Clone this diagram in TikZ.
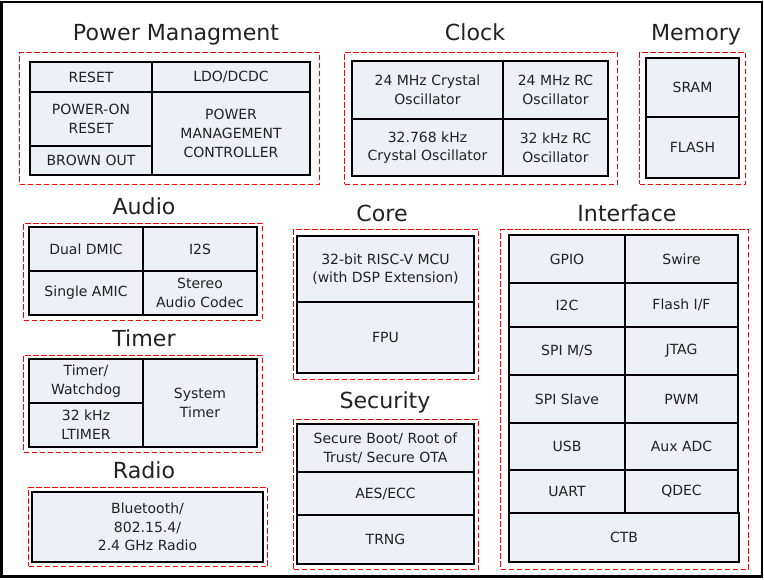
\documentclass[tikz,border=0pt]{standalone}
\usepackage{fontspec}
\setmainfont{DejaVu Sans}
\definecolor{cellfill}{RGB}{237,240,247}
\definecolor{grpred}{RGB}{255,0,0}
\definecolor{txtgray}{RGB}{34,34,34}
\tikzset{
  cellbox/.style={draw=black, line width=0.9pt, fill=cellfill, inner sep=0pt,
    align=center, text=txtgray, font=\fontsize{10.5}{14}\selectfont},
  grpbox/.style={draw=grpred, line width=0.8pt, dash pattern=on 4pt off 2pt, inner sep=0pt},
  grptitle/.style={anchor=base, text=txtgray, font=\fontsize{16.6}{20}\selectfont},
}
% box from pixel corners (x1,y1) to (x2,y2)
\newcommand{\cellnode}[7][cellbox]{%
  \pgfmathsetmacro{\cw}{(#5-#3)*0.75}%
  \pgfmathsetmacro{\ch}{(#6-#4)*0.75}%
  \node[#1, minimum width=\cw pt, minimum height=\ch pt] (#2) at ({(#3+#5)/2},{(#4+#6)/2}) {#7};}

\begin{document}
\begin{tikzpicture}[x=0.75pt,y=-0.75pt]
    \useasboundingbox (0,0) rectangle (764,580);

    % outer frame
    \draw[line width=1.5pt] (1.5,2) rectangle (761.5,576.5);

    % Power management
    \node[grptitle] (t-power) at (176,41) {Power Managment};
    \cellnode[grpbox]{g-power}{19.5}{52.5}{319.5}{184.5}{}
    \cellnode{rst}{30}{62}{152}{92}{RESET}
    \cellnode{por}{30}{92}{152}{146}{POWER-ON\\RESET}
    \cellnode{bo}{30}{146}{152}{175}{BROWN OUT}
    \cellnode{ldo}{152}{62}{310}{92}{LDO/DCDC}
    \cellnode{pmc}{152}{92}{310}{175}{POWER\\MANAGEMENT\\CONTROLLER}

    % Clock
    \node[grptitle] (t-clock) at (475,41) {Clock};
    \cellnode[grpbox]{g-clock}{344.5}{52.5}{617.5}{184.5}{}
    \cellnode{xo24}{352}{61}{503}{119}{24 MHz Crystal\\Oscillator}
    \cellnode{rc24}{503}{61}{608}{119}{24 MHz RC\\Oscillator}
    \cellnode{xo32}{352}{119}{503}{176}{32.768 kHz\\Crystal Oscillator}
    \cellnode{rc32}{503}{119}{608}{176}{32 kHz RC\\Oscillator}

    % Memory
    \node[grptitle] (t-mem) at (696,41) {Memory};
    \cellnode[grpbox]{g-mem}{639.5}{52.5}{745.5}{184.5}{}
    \cellnode{sram}{646}{58}{739}{117}{SRAM}
    \cellnode{flash}{646}{117}{739}{178}{FLASH}

    % Audio
    \node[grptitle] (t-audio) at (144,215) {Audio};
    \cellnode[grpbox]{g-audio}{23.5}{223.5}{262.5}{320.5}{}
    \cellnode{dmic}{29}{227}{143}{271}{Dual DMIC}
    \cellnode{i2s}{143}{227}{257}{271}{I2S}
    \cellnode{amic}{29}{271}{143}{315}{Single AMIC}
    \cellnode{codec}{143}{271}{257}{315}{Stereo\\Audio Codec}

    % Timer
    \node[grptitle] (t-timer) at (144,347) {Timer};
    \cellnode[grpbox]{g-timer}{23.5}{355.5}{262.5}{452.5}{}
    \cellnode{wdt}{29}{359}{143}{403}{Timer/\\Watchdog}
    \cellnode{ltimer}{29}{403}{143}{447}{32 kHz\\LTIMER}
    \cellnode{systimer}{143}{359}{257}{447}{System\\Timer}

    % Radio
    \node[grptitle] (t-radio) at (144,479) {Radio};
    \cellnode[grpbox]{g-radio}{28.5}{487.5}{267.5}{566.5}{}
    \cellnode{radio}{32}{492}{263}{562}{Bluetooth/\\802.15.4/\\2.4 GHz Radio}

    % Core
    \node[grptitle] (t-core) at (382,222) {Core};
    \cellnode[grpbox]{g-core}{293.5}{229.5}{478.5}{379.5}{}
    \cellnode{mcu}{297}{236}{474}{302}{32-bit RISC-V MCU\\(with DSP Extension)}
    \cellnode{fpu}{297}{302}{474}{373}{FPU}

    % Security
    \node[grptitle] (t-sec) at (385,409) {Security};
    \cellnode[grpbox]{g-sec}{293.5}{419.5}{478.5}{569.5}{}
    \cellnode{boot}{297}{424}{474}{472}{Secure Boot/ Root of\\Trust/ Secure OTA}
    \cellnode{aes}{297}{472}{474}{515}{AES/ECC}
    \cellnode{trng}{297}{515}{474}{564}{TRNG}

    % Interface
    \node[grptitle] (t-if) at (627,222) {Interface};
    \cellnode[grpbox]{g-if}{500.5}{229.5}{748.5}{569.5}{}
    \cellnode{gpio}{509}{235}{625}{283}{GPIO}
    \cellnode{swire}{625}{235}{738}{283}{Swire}
    \cellnode{i2c}{509}{283}{625}{327}{I2C}
    \cellnode{flif}{625}{283}{738}{327}{Flash I/F}
    \cellnode{spims}{509}{327}{625}{375}{SPI M/S}
    \cellnode{jtag}{625}{327}{738}{375}{JTAG}
    \cellnode{spis}{509}{375}{625}{423}{SPI Slave}
    \cellnode{pwm}{625}{375}{738}{423}{PWM}
    \cellnode{usb}{509}{423}{625}{470}{USB}
    \cellnode{adc}{625}{423}{738}{470}{Aux ADC}
    \cellnode{uart}{509}{470}{625}{513}{UART}
    \cellnode{qdec}{625}{470}{738}{513}{QDEC}
    \cellnode{ctb}{509}{513}{739}{562}{CTB}
\end{tikzpicture}
\end{document}
